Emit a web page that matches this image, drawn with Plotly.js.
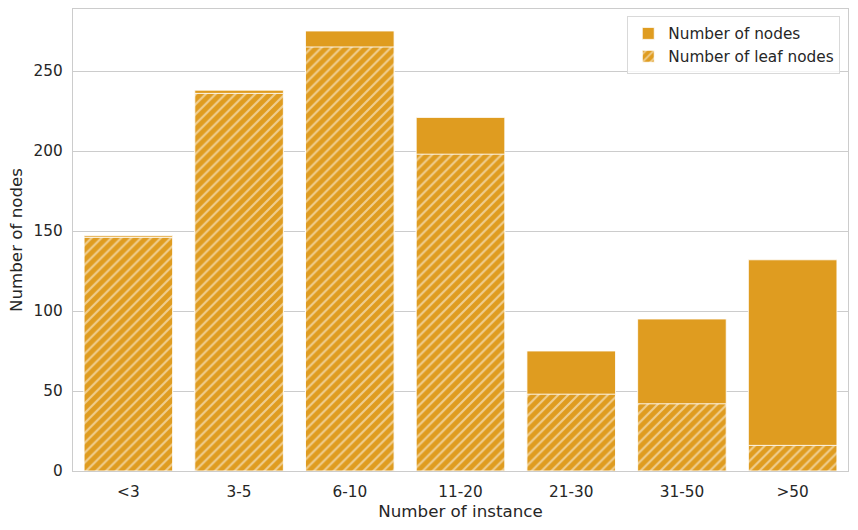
<!DOCTYPE html>
<html>
<head>
<meta charset="utf-8">
<script src="https://cdn.plot.ly/plotly-3.0.1.min.js"></script>
<style>html,body{margin:0;padding:0;background:#fff}#chart{width:858px;height:530px}</style>
</head>
<body>
<div id="chart"></div>
<script>
const categories = ["<3", "3-5", "6-10", "11-20", "21-30", "31-50", ">50"];
const totalNodes = [147, 238, 275, 221, 75, 95, 132];
const leafNodes = [146, 236, 265, 198, 48, 42, 16];
const orange = "#DF9C20";

const traces = [
  {
    type: "bar", x: categories, y: totalNodes, name: "Number of nodes",
    width: 0.8,
    marker: {color: orange, line: {color: "rgba(255,255,255,0.8)", width: 1}}
  },
  {
    type: "bar", x: categories, y: leafNodes, name: "Number of leaf nodes",
    width: 0.8,
    marker: {color: orange, line: {color: "rgba(255,255,255,0.9)", width: 1},
      pattern: {shape: "/", fgcolor: "#ffffff", bgcolor: orange, size: 7, solidity: 0.3, fillmode: "overlay"}}
  }
];

const layout = {
  width: 858, height: 530,
  margin: {l: 73, r: 10, t: 9, b: 59},
  paper_bgcolor: "#ffffff", plot_bgcolor: "#ffffff",
  font: {family: "DejaVu Sans, sans-serif", size: 15.3, color: "#262626"},
  barmode: "overlay",
  bargap: 0.2,
  xaxis: {
    title: {text: "Number of instance", font: {size: 16.7}, standoff: 5},
    showgrid: false, showline: true, linecolor: "#cccccc", linewidth: 1.3, mirror: true,
    ticks: "", tickfont: {size: 15.3}, ticklabelstandoff: 6
  },
  yaxis: {
    title: {text: "Number of nodes", font: {size: 16.7}, standoff: 6},
    range: [0, 288.75], tickvals: [0, 50, 100, 150, 200, 250],
    showgrid: true, gridcolor: "#cccccc", gridwidth: 1,
    showline: true, linecolor: "#cccccc", linewidth: 1.3, mirror: true,
    zeroline: false, ticks: "", tickfont: {size: 15.3}, ticklabelstandoff: 6
  },
  showlegend: true,
  legend: {
    x: 0.99, y: 0.985, xanchor: "right", yanchor: "top",
    bgcolor: "rgba(255,255,255,0.8)", bordercolor: "#d9d9d9", borderwidth: 1,
    font: {size: 15.3}, traceorder: "normal", itemwidth: 30
  }
};

Plotly.newPlot("chart", traces, layout, {staticPlot: true, displayModeBar: false});
</script>
</body>
</html>
